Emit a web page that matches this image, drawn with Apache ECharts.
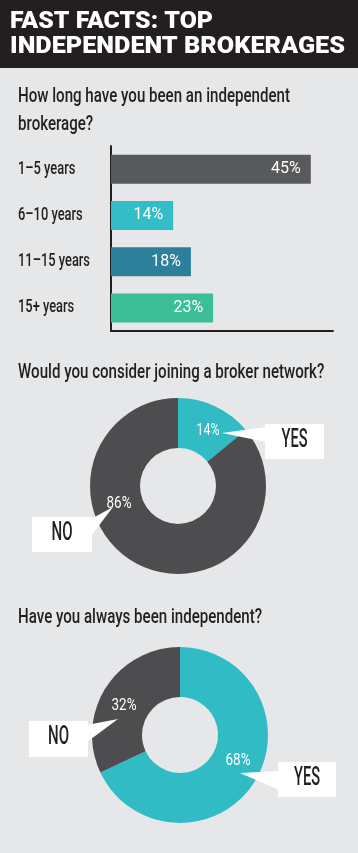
<!DOCTYPE html>
<html>
<head>
<meta charset="utf-8">
<script src="https://cdn.jsdelivr.net/npm/echarts@6/dist/echarts.min.js"></script>
<style>
html,body{margin:0;padding:0;background:#e6e7e8;}
#c{width:358px;height:853px;}
</style>
</head>
<body>
<div id="c"></div>
<script>
// ---- data ----
var titleLines = ['FAST FACTS: TOP', 'INDEPENDENT BROKERAGES'];
var q1Lines = ['How long have you been an independent', 'brokerage?'];
var q2Text = 'Would you consider joining a broker network?';
var q3Text = 'Have you always been independent?';
var tenureCategories = ['1–5 years', '6–10 years', '11–15 years', '15+ years'];
var tenureValues = [45, 14, 18, 23];
var networkNames = ['YES', 'NO'];
var networkValues = [14, 86];
var alwaysNames = ['YES', 'NO'];
var alwaysValues = [68, 32];

var SANS = 'Roboto,"Liberation Sans",sans-serif';
var HEAD = 'Roboto,"Liberation Sans",Arial,sans-serif';
var INK = '#231f20';
var TEAL = '#31bcc5';
var DARK = '#4d4d4f';
var barColors = ['#58595b', '#33bec7', '#2e7f9b', '#3cbf97'];

var ctx = document.createElement('canvas').getContext('2d');
function measure(text, font) { ctx.font = font; return ctx.measureText(text).width; }

// text element squeezed horizontally to a given width (condensed look)
function txt(text, x, y, size, color, font, weight, align, width, sx) {
  var f = (weight || 'normal') + ' ' + size + 'px ' + font;
  var s = sx || (width ? width / measure(text, f) : 1);
  return {
    type: 'text', x: x, y: y, scaleX: s, z: 10, silent: true,
    style: {text: text, x: 0, y: 0, fill: color, font: f, align: align || 'left', verticalAlign: 'middle'}
  };
}
function callout(box, tri, label, w) {
  return [
    {type: 'polygon', z: 8, silent: true, shape: {points: tri}, style: {fill: '#fff'}},
    {type: 'rect', z: 8, silent: true, shape: box, style: {fill: '#fff'}},
    txt(label, box.x + box.width / 2, box.y + box.height / 2 - 1, 25, INK, SANS, '500', 'center', w)
  ];
}

var qScale = 272 / measure(q1Lines[0], '500 20px ' + SANS);

var graphics = [
  {type: 'rect', z: 1, silent: true, shape: {x: 0, y: 0, width: 358, height: 68}, style: {fill: INK}},
  txt(titleLines[0], 10, 22, 23, '#fff', HEAD, '900', 'left', 203),
  txt(titleLines[1], 10, 47, 23, '#fff', HEAD, '900', 'left', 335),
  txt(q1Lines[0], 18, 97, 20, INK, SANS, '500', 'left', null, qScale),
  txt(q1Lines[1], 18, 125, 20, INK, SANS, '500', 'left', null, qScale),
  txt(q2Text, 18, 373, 20, INK, SANS, '500', 'left', null, qScale),
  txt(q3Text, 18, 618, 20, INK, SANS, '500', 'left', null, qScale),
  // donut percentage labels
  txt(networkValues[0] + '%', 208, 431, 17, '#fff', SANS, 'normal', 'center', 23),
  txt(networkValues[1] + '%', 119, 504, 17, '#fff', SANS, 'normal', 'center', 25),
  txt(alwaysValues[1] + '%', 124, 706, 17, '#fff', SANS, 'normal', 'center', 25),
  txt(alwaysValues[0] + '%', 238, 761, 17, '#fff', SANS, 'normal', 'center', 25)
];
graphics = graphics
  .concat(callout({x: 265, y: 424, width: 59, height: 35}, [[222, 433], [266, 427], [266, 442]], networkNames[0], 26))
  .concat(callout({x: 32, y: 517, width: 60, height: 35}, [[113, 507], [91, 519], [91, 536]], networkNames[1], 21))
  .concat(callout({x: 29, y: 721, width: 59, height: 36}, [[118, 719], [87, 725], [87, 742]], alwaysNames[1], 21))
  .concat(callout({x: 278, y: 762, width: 58, height: 35}, [[240, 773], [279, 771], [279, 790]], alwaysNames[0], 26));

var chart = echarts.init(document.getElementById('c'), null, {renderer: 'canvas'});
var option = {
  backgroundColor: '#e6e7e8',
  animation: false,
  grid: {left: 111, top: 146, width: 222, height: 185, containLabel: false},
  xAxis: {
    type: 'value', min: 0, max: 50,
    axisLine: {show: true, lineStyle: {color: INK, width: 2}},
    axisTick: {show: false}, axisLabel: {show: false}, splitLine: {show: false}
  },
  yAxis: {
    type: 'category', inverse: true, data: tenureCategories,
    axisLine: {show: true, lineStyle: {color: INK, width: 2}},
    axisTick: {show: false},
    axisLabel: {show: false}
  },
  series: [
    {
      type: 'bar', barWidth: 29, silent: true,
      data: tenureValues.map(function (v, i) { return {value: v, itemStyle: {color: barColors[i]}}; }),
      label: {show: true, position: 'insideRight', distance: 10, color: '#fff', fontSize: 16,
        fontFamily: 'Roboto', formatter: '{c}%'}
    },
    {
      type: 'pie', center: [178, 486], radius: [38, 88], startAngle: 90, clockwise: true, silent: true,
      label: {show: false}, labelLine: {show: false},
      data: networkValues.map(function (v, i) {
        return {value: v, name: networkNames[i], itemStyle: {color: i === 0 ? TEAL : DARK}};
      })
    },
    {
      type: 'pie', center: [180, 735], radius: [38, 88], startAngle: 90, clockwise: true, silent: true,
      label: {show: false}, labelLine: {show: false},
      data: alwaysValues.map(function (v, i) {
        return {value: v, name: alwaysNames[i], itemStyle: {color: i === 0 ? TEAL : DARK}};
      })
    }
  ],
  graphic: {elements: graphics}
};
chart.setOption(option);

// category labels: condensed text placed at the category positions given by the y axis scale
var catScale = 72 / measure(tenureCategories[2], '500 18px ' + SANS);
var catLabels = tenureCategories.map(function (c) {
  var y = chart.convertToPixel({yAxisIndex: 0}, c);
  return txt(c, 18, y, 18, INK, SANS, '500', 'left', null, catScale);
});
chart.setOption({graphic: {elements: graphics.concat(catLabels)}});
</script>
</body>
</html>
